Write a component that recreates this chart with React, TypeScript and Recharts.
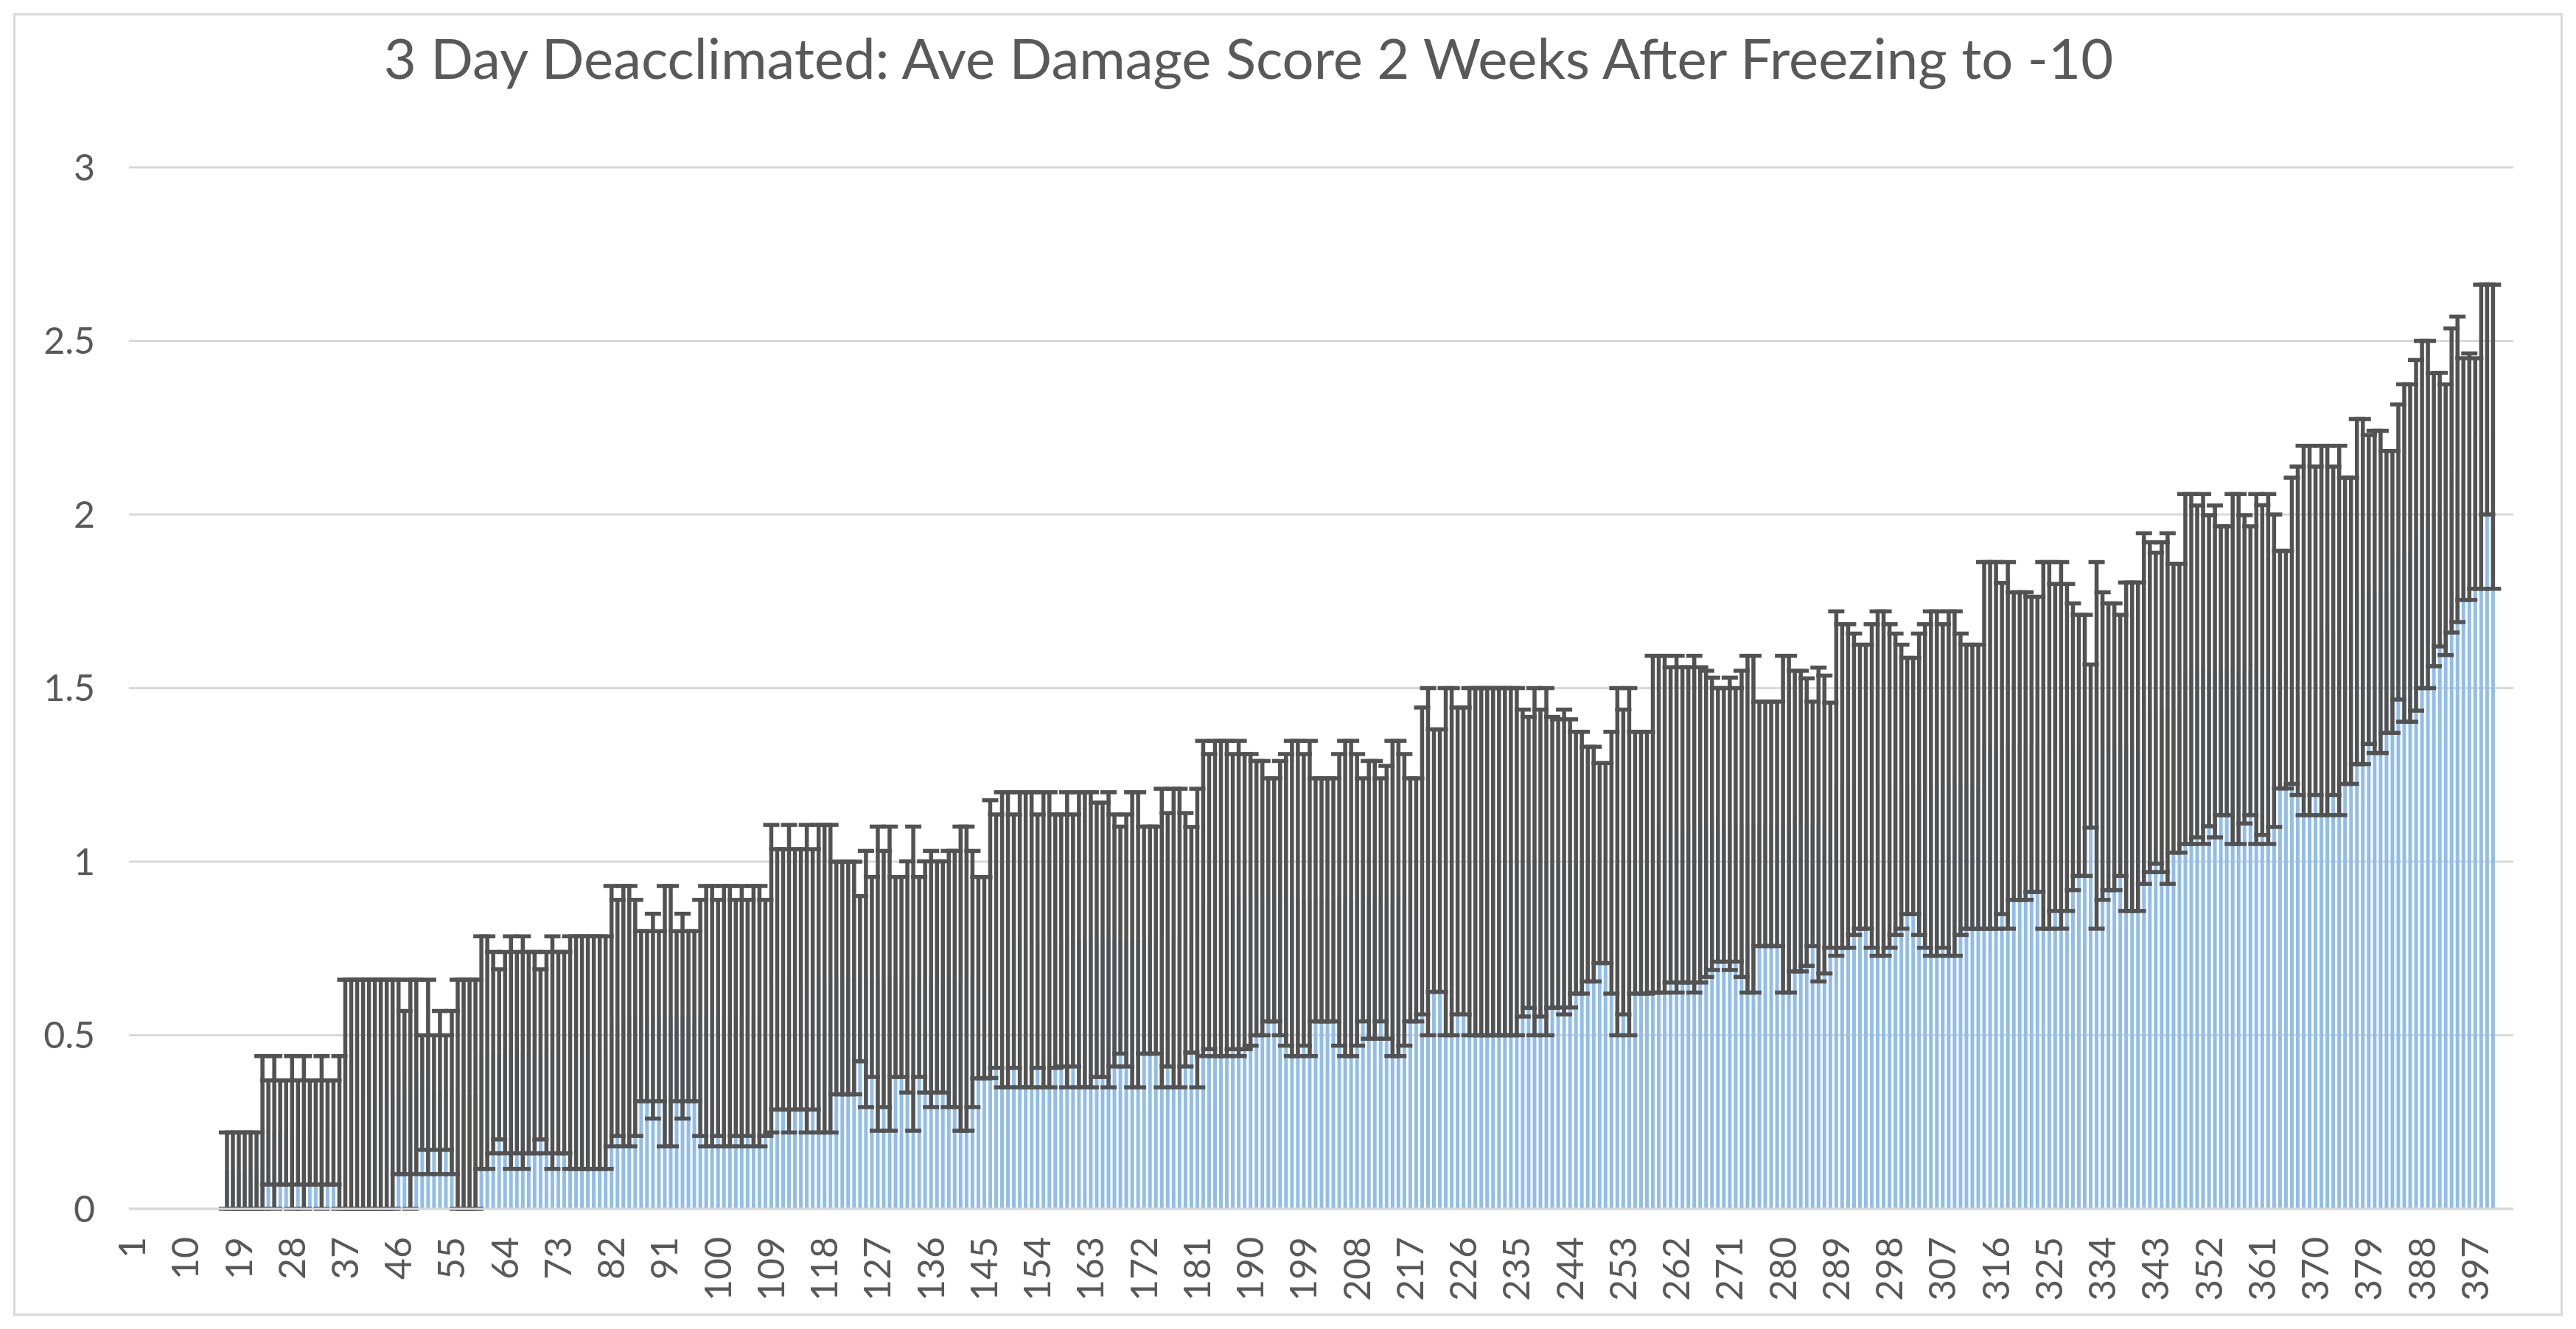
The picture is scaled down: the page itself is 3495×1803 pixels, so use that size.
import React from 'react';
import { BarChart, Bar, XAxis, YAxis, CartesianGrid, ErrorBar } from 'recharts';

// average damage score per line, sorted ascending (lines 1..400)
const meanScore = [
  0, 0, 0, 0, 0, 0, 0, 0, 0, 0,
  0, 0, 0, 0, 0, 0, 0.11, 0.11, 0.11, 0.11,
  0.11, 0.11, 0.22, 0.22, 0.22, 0.22, 0.22, 0.22, 0.22, 0.22,
  0.22, 0.22, 0.22, 0.22, 0.22, 0.22, 0.33, 0.33, 0.33, 0.33,
  0.33, 0.33, 0.33, 0.33, 0.33, 0.38, 0.335, 0.33, 0.38, 0.335,
  0.38, 0.335, 0.335, 0.335, 0.335, 0.33, 0.33, 0.33, 0.33, 0.45,
  0.45, 0.45, 0.445, 0.45, 0.45, 0.45, 0.45, 0.45, 0.45, 0.445,
  0.45, 0.45, 0.45, 0.45, 0.45, 0.45, 0.45, 0.45, 0.45, 0.45,
  0.45, 0.555, 0.55, 0.555, 0.555, 0.55, 0.555, 0.555, 0.555, 0.555,
  0.555, 0.555, 0.555, 0.555, 0.555, 0.555, 0.55, 0.555, 0.555, 0.55,
  0.555, 0.555, 0.55, 0.555, 0.55, 0.555, 0.555, 0.55, 0.663, 0.661,
  0.661, 0.663, 0.661, 0.661, 0.663, 0.661, 0.663, 0.663, 0.663, 0.665,
  0.665, 0.665, 0.665, 0.663, 0.662, 0.668, 0.663, 0.662, 0.663, 0.668,
  0.668, 0.668, 0.663, 0.668, 0.668, 0.662, 0.668, 0.668, 0.662, 0.662,
  0.663, 0.663, 0.662, 0.666, 0.666, 0.777, 0.771, 0.775, 0.775, 0.771,
  0.775, 0.775, 0.775, 0.771, 0.775, 0.775, 0.771, 0.773, 0.775, 0.773,
  0.775, 0.775, 0.775, 0.775, 0.775, 0.775, 0.773, 0.774, 0.773, 0.775,
  0.775, 0.774, 0.774, 0.774, 0.78, 0.775, 0.78, 0.78, 0.775, 0.775,
  0.78, 0.894, 0.885, 0.894, 0.894, 0.894, 0.885, 0.894, 0.885, 0.89,
  0.895, 0.895, 0.89, 0.89, 0.895, 0.89, 0.894, 0.894, 0.89, 0.894,
  0.89, 0.89, 0.89, 0.89, 0.89, 0.894, 0.894, 0.89, 0.89, 0.89,
  0.89, 0.89, 0.883, 0.894, 0.894, 0.89, 0.89, 0.89, 1.002, 1.0,
  1.003, 1.003, 1.0, 1.0, 1.002, 1.002, 1.0, 1.0, 1.0, 1.0,
  1.0, 1.0, 1.0, 1.0, 1.0, 0.996, 0.998, 1.0, 0.996, 1.0,
  0.998, 0.995, 0.999, 0.995, 0.997, 0.997, 0.993, 0.993, 0.996, 0.996,
  0.997, 1.0, 0.999, 1.0, 0.997, 0.997, 0.997, 1.108, 1.108, 1.108,
  1.106, 1.108, 1.106, 1.106, 1.108, 1.106, 1.109, 1.109, 1.106, 1.106,
  1.109, 1.106, 1.109, 1.108, 1.108, 1.109, 1.109, 1.109, 1.109, 1.108,
  1.108, 1.117, 1.117, 1.114, 1.109, 1.107, 1.107, 1.105, 1.225, 1.218,
  1.218, 1.223, 1.216, 1.216, 1.218, 1.225, 1.225, 1.218, 1.223, 1.216,
  1.218, 1.218, 1.223, 1.218, 1.225, 1.225, 1.218, 1.225, 1.225, 1.223,
  1.216, 1.216, 1.216, 1.335, 1.335, 1.335, 1.326, 1.335, 1.333, 1.333,
  1.333, 1.338, 1.338, 1.335, 1.335, 1.329, 1.335, 1.329, 1.331, 1.335,
  1.335, 1.333, 1.335, 1.333, 1.331, 1.331, 1.335, 1.331, 1.331, 1.331,
  1.441, 1.445, 1.442, 1.445, 1.441, 1.442, 1.442, 1.555, 1.555, 1.548,
  1.555, 1.55, 1.548, 1.55, 1.55, 1.555, 1.555, 1.554, 1.55, 1.555,
  1.552, 1.555, 1.55, 1.553, 1.553, 1.665, 1.665, 1.666, 1.666, 1.665,
  1.666, 1.666, 1.665, 1.666, 1.665, 1.665, 1.778, 1.778, 1.784, 1.777,
  1.777, 1.777, 1.777, 1.892, 1.889, 1.889, 1.94, 2.0, 2.0, 1.985,
  2.014, 1.985, 2.098, 2.13, 2.102, 2.109, 2.118, 2.224, 2.331, 2.224,
];

// error bar half-length per line
const scoreError = [
  0, 0, 0, 0, 0, 0, 0, 0, 0, 0,
  0, 0, 0, 0, 0, 0, 0.11, 0.11, 0.11, 0.11,
  0.11, 0.11, 0.22, 0.15, 0.22, 0.15, 0.15, 0.22, 0.15, 0.22,
  0.15, 0.15, 0.22, 0.15, 0.15, 0.22, 0.33, 0.33, 0.33, 0.33,
  0.33, 0.33, 0.33, 0.33, 0.33, 0.28, 0.235, 0.33, 0.28, 0.165,
  0.28, 0.165, 0.235, 0.165, 0.235, 0.33, 0.33, 0.33, 0.33, 0.335,
  0.335, 0.29, 0.245, 0.29, 0.335, 0.29, 0.335, 0.29, 0.29, 0.245,
  0.29, 0.335, 0.29, 0.29, 0.335, 0.335, 0.335, 0.335, 0.335, 0.335,
  0.335, 0.375, 0.34, 0.375, 0.375, 0.34, 0.245, 0.245, 0.295, 0.245,
  0.375, 0.375, 0.245, 0.295, 0.245, 0.245, 0.34, 0.375, 0.375, 0.34,
  0.375, 0.375, 0.34, 0.375, 0.34, 0.375, 0.375, 0.34, 0.443, 0.375,
  0.375, 0.443, 0.375, 0.375, 0.443, 0.375, 0.443, 0.443, 0.443, 0.335,
  0.335, 0.335, 0.335, 0.238, 0.369, 0.288, 0.438, 0.369, 0.438, 0.288,
  0.288, 0.333, 0.438, 0.288, 0.333, 0.369, 0.333, 0.333, 0.369, 0.369,
  0.438, 0.438, 0.369, 0.29, 0.29, 0.4, 0.365, 0.425, 0.425, 0.365,
  0.425, 0.425, 0.425, 0.365, 0.425, 0.425, 0.365, 0.363, 0.425, 0.363,
  0.425, 0.425, 0.425, 0.395, 0.395, 0.425, 0.363, 0.327, 0.363, 0.425,
  0.425, 0.327, 0.327, 0.327, 0.43, 0.365, 0.43, 0.43, 0.365, 0.325,
  0.43, 0.454, 0.425, 0.454, 0.454, 0.454, 0.425, 0.454, 0.425, 0.42,
  0.395, 0.395, 0.35, 0.35, 0.395, 0.42, 0.454, 0.454, 0.42, 0.454,
  0.35, 0.35, 0.35, 0.35, 0.42, 0.454, 0.454, 0.42, 0.35, 0.4,
  0.4, 0.35, 0.393, 0.454, 0.454, 0.42, 0.35, 0.35, 0.442, 0.5,
  0.378, 0.378, 0.5, 0.5, 0.442, 0.442, 0.5, 0.5, 0.5, 0.5,
  0.5, 0.5, 0.5, 0.5, 0.5, 0.442, 0.419, 0.5, 0.442, 0.5,
  0.419, 0.415, 0.439, 0.415, 0.377, 0.377, 0.338, 0.338, 0.288, 0.288,
  0.377, 0.5, 0.439, 0.5, 0.377, 0.377, 0.377, 0.485, 0.485, 0.485,
  0.454, 0.485, 0.454, 0.454, 0.485, 0.454, 0.441, 0.421, 0.394, 0.394,
  0.421, 0.394, 0.441, 0.485, 0.485, 0.352, 0.352, 0.352, 0.352, 0.485,
  0.485, 0.433, 0.433, 0.414, 0.352, 0.452, 0.429, 0.353, 0.496, 0.466,
  0.466, 0.434, 0.409, 0.409, 0.466, 0.496, 0.496, 0.466, 0.434, 0.409,
  0.369, 0.369, 0.434, 0.466, 0.496, 0.496, 0.466, 0.496, 0.496, 0.434,
  0.409, 0.409, 0.409, 0.528, 0.528, 0.528, 0.477, 0.528, 0.443, 0.443,
  0.443, 0.425, 0.425, 0.528, 0.528, 0.471, 0.528, 0.471, 0.413, 0.376,
  0.376, 0.235, 0.528, 0.443, 0.413, 0.413, 0.376, 0.473, 0.473, 0.473,
  0.505, 0.475, 0.448, 0.475, 0.505, 0.416, 0.416, 0.504, 0.504, 0.478,
  0.504, 0.448, 0.478, 0.416, 0.416, 0.504, 0.504, 0.444, 0.416, 0.504,
  0.475, 0.504, 0.45, 0.342, 0.342, 0.441, 0.473, 0.532, 0.532, 0.473,
  0.532, 0.532, 0.473, 0.532, 0.441, 0.441, 0.497, 0.497, 0.445, 0.464,
  0.464, 0.406, 0.406, 0.425, 0.486, 0.486, 0.505, 0.5, 0.5, 0.422,
  0.394, 0.39, 0.438, 0.44, 0.348, 0.355, 0.332, 0.438, 0.331, 0.438,
];

// the category axis runs a few empty slots past the last line
const categoryCount = 403;
const categories = Array.from({ length: categoryCount }, (_, i) => String(i + 1));
const yTicks = [0, 0.5, 1, 1.5, 2, 2.5, 3];

const data = categories.map((name, i) => ({
  name,
  mean: i < meanScore.length ? meanScore[i] : null,
  err: i < scoreError.length ? scoreError[i] : null,
}));

const textGray = '#595959';
const font = 'Lato, "Open Sans", sans-serif';

const XTick = (props: any) => {
  const { x, y, payload } = props;
  return (
    <text
      x={x}
      y={y}
      transform={`rotate(-90 ${x} ${y})`}
      textAnchor="end"
      dy="0.36em"
      fill={textGray}
      fontSize={50}
      fontFamily={font}
    >
      {payload.value}
    </text>
  );
};

const App = () => {
  return (
    <div style={{ position: 'absolute', left: 0, top: 0, width: 3495, height: 1803, background: '#fff' }}>
      <div
        style={{
          position: 'absolute',
          left: 18,
          top: 18,
          width: 3459,
          height: 1767,
          boxSizing: 'border-box',
          border: '3px solid #d9d9d9',
        }}
      />
      <div
        style={{
          position: 'absolute',
          left: 0,
          width: 3388,
          top: 32,
          textAlign: 'center',
          fontFamily: font,
          fontSize: 76,
          color: textGray,
          whiteSpace: 'nowrap',
        }}
      >
        3 Day Deacclimated: Ave Damage Score 2 Weeks After Freezing to -10
      </div>
      <div style={{ position: 'absolute', left: 0, top: 0 }}>
        <BarChart
          width={3495}
          height={1803}
          data={data}
          margin={{ top: 227, right: 85, bottom: 0, left: 0 }}
          barSize={5}
        >
          <CartesianGrid vertical={false} stroke="#d9d9d9" strokeWidth={3} />
          <XAxis
            dataKey="name"
            interval={8}
            height={163}
            tickLine={false}
            tickSize={0}
            tickMargin={38}
            axisLine={{ stroke: '#d9d9d9', strokeWidth: 3 }}
            tick={<XTick />}
          />
          <YAxis
            width={175}
            domain={[0, 3]}
            ticks={yTicks}
            allowDataOverflow
            axisLine={false}
            tickLine={false}
            tickSize={0}
            tickMargin={46}
            tick={{ fill: textGray, fontSize: 50, fontFamily: font }}
          />
          <Bar dataKey="mean" fill="#92bde9" isAnimationActive={false}>
            <ErrorBar dataKey="err" width={11} strokeWidth={5.5} stroke="#525252" direction="y" />
          </Bar>
        </BarChart>
      </div>
    </div>
  );
};

export default App;
